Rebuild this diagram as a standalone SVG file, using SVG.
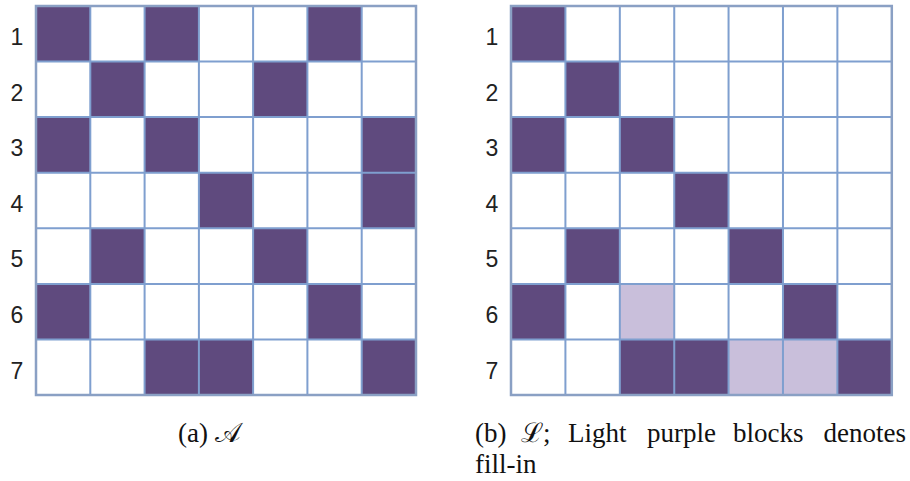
<svg xmlns="http://www.w3.org/2000/svg" width="910" height="481" viewBox="0 0 910 481">
<style>
.d{fill:#5f4a7e}
.l{fill:#c9bfdb}
.g{stroke:#7f9fcf;stroke-width:2;fill:none}
.b{stroke:#8aa0c4;stroke-width:2.5;fill:none}
.n{font-family:"Liberation Sans",Arial,sans-serif;font-size:23px;fill:#222;text-anchor:middle}
.c{font-family:"Liberation Serif","Times New Roman",serif;font-size:27px;fill:#111}
</style>
<defs>
<g id="lines">
<path class="g" d="M54.3 0V389M108.6 0V389M162.9 0V389M217.1 0V389M271.4 0V389M325.7 0V389M0 55.6H380M0 111.1H380M0 166.7H380M0 222.3H380M0 277.9H380M0 333.4H380"/>
<rect class="b" x="0" y="0" width="380" height="389"/>
</g>
</defs>
<g id="gridA" transform="translate(36,6)">
<g id="cellsA">
<rect class="d" x="0" y="0" width="54.3" height="55.6"/>
<rect class="d" x="108.6" y="0" width="54.3" height="55.6"/>
<rect class="d" x="271.4" y="0" width="54.3" height="55.6"/>
<rect class="d" x="54.3" y="55.6" width="54.3" height="55.6"/>
<rect class="d" x="217.1" y="55.6" width="54.3" height="55.6"/>
<rect class="d" x="0" y="111.1" width="54.3" height="55.6"/>
<rect class="d" x="108.6" y="111.1" width="54.3" height="55.6"/>
<rect class="d" x="325.7" y="111.1" width="54.3" height="55.6"/>
<rect class="d" x="162.9" y="166.7" width="54.3" height="55.6"/>
<rect class="d" x="325.7" y="166.7" width="54.3" height="55.6"/>
<rect class="d" x="54.3" y="222.3" width="54.3" height="55.6"/>
<rect class="d" x="217.1" y="222.3" width="54.3" height="55.6"/>
<rect class="d" x="0" y="277.9" width="54.3" height="55.6"/>
<rect class="d" x="271.4" y="277.9" width="54.3" height="55.6"/>
<rect class="d" x="108.6" y="333.4" width="54.3" height="55.6"/>
<rect class="d" x="162.9" y="333.4" width="54.3" height="55.6"/>
<rect class="d" x="325.7" y="333.4" width="54.3" height="55.6"/>
</g>
<use href="#lines"/>
</g>
<g id="gridB" transform="translate(511,6) scale(1.0021,1)">
<g id="cellsB">
<rect class="d" x="0" y="0" width="54.3" height="55.6"/>
<rect class="d" x="54.3" y="55.6" width="54.3" height="55.6"/>
<rect class="d" x="0" y="111.1" width="54.3" height="55.6"/>
<rect class="d" x="108.6" y="111.1" width="54.3" height="55.6"/>
<rect class="d" x="162.9" y="166.7" width="54.3" height="55.6"/>
<rect class="d" x="54.3" y="222.3" width="54.3" height="55.6"/>
<rect class="d" x="217.1" y="222.3" width="54.3" height="55.6"/>
<rect class="d" x="0" y="277.9" width="54.3" height="55.6"/>
<rect class="l" x="108.6" y="277.9" width="54.3" height="55.6"/>
<rect class="d" x="271.4" y="277.9" width="54.3" height="55.6"/>
<rect class="d" x="108.6" y="333.4" width="54.3" height="55.6"/>
<rect class="d" x="162.9" y="333.4" width="54.3" height="55.6"/>
<rect class="l" x="217.1" y="333.4" width="54.3" height="55.6"/>
<rect class="l" x="271.4" y="333.4" width="54.3" height="55.6"/>
<rect class="d" x="325.7" y="333.4" width="54.3" height="55.6"/>
</g>
<use href="#lines"/>
</g>
<g id="labelsA" class="n">
<text x="17" y="45">1</text>
<text x="17" y="101">2</text>
<text x="17" y="156">3</text>
<text x="17" y="212">4</text>
<text x="17" y="267">5</text>
<text x="17" y="323">6</text>
<text x="17" y="379">7</text>
</g>
<g id="labelsB" class="n">
<text x="492" y="45">1</text>
<text x="492" y="101">2</text>
<text x="492" y="156">3</text>
<text x="492" y="212">4</text>
<text x="492" y="267">5</text>
<text x="492" y="323">6</text>
<text x="492" y="379">7</text>
</g>
<g id="captionA">
<text class="c" x="178" y="442">(a) 𝒜</text>
</g>
<g id="captionB">
<text class="c" x="475" y="442">(b)</text>
<text class="c" x="521" y="442">ℒ;</text>
<text class="c" x="568" y="442">Light</text>
<text class="c" x="647" y="442">purple</text>
<text class="c" x="733" y="442">blocks</text>
<text class="c" x="906" y="442" text-anchor="end">denotes</text>
<text class="c" x="475" y="473">fill-in</text>
</g>
</svg>
